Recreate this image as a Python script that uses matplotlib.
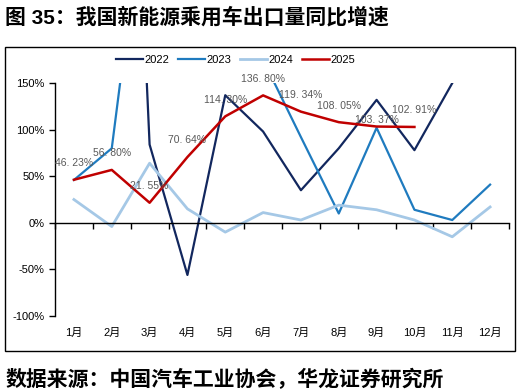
import matplotlib.pyplot as plt
from matplotlib.patches import Rectangle

plt.rcParams['font.family'] = ['Liberation Sans', 'Noto Sans CJK SC']

# =====================
# DADOS
# =====================

meses = ["1月", "2月", "3月", "4月", "5月", "6月", "7月", "8月", "9月", "10月", "11月", "12月"]

# valores acima de 150% ficam cortados no gráfico original (estimados)
v2022 = [800, 980, 84, -56, 137, 98, 35, 80, 132, 78, 150, None]
v2023 = [46, 80, 398, 300, 250, 175, 92, 10, 102, 14, 3, 41]
v2024 = [25, -4, 64, 15, -10, 11, 3, 19, 14, 3, -15, 17]
v2025 = [46.23, 56.80, 21.55, 70.64, 114.30, 136.80, 119.34, 108.05, 103.37, 102.91]

rotulos_2025 = ["46.23%", "56.80%", "21.55%", "70.64%", "114.30%", "136.80%",
                "119.34%", "108.05%", "103.37%", "102.91%"]

# =====================
# FIGURA
# =====================

fig = plt.figure(figsize=(5.21, 3.92), dpi=100)
ax = fig.add_axes([0.1056, 0.194, 0.8714, 0.594])

x = list(range(1, 13))

ax.plot(x[:len(v2022)], [v if v is not None else float('nan') for v in v2022],
        color="#12275e", lw=1.6, label="2022")
ax.plot(x, v2023, color="#1f7bbf", lw=1.6, label="2023")
ax.plot(x, v2024, color="#a5c8e6", lw=2.0, label="2024")
ax.plot(x[:len(v2025)], v2025, color="#c00000", lw=1.8, label="2025")

for i, (val, txt) in enumerate(zip(v2025, rotulos_2025)):
    dy = 5 if i == 8 else 12
    ax.annotate(txt.replace(".", ". "), (x[i], val), xytext=(0, dy),
                textcoords="offset points", ha="center", va="center",
                fontsize=7.5, color="#595959")

ax.set_xlim(0.5, 12.5)
ax.set_ylim(-100, 150)
ax.set_yticks([-100, -50, 0, 50, 100, 150])
ax.set_yticklabels(["-100%", "-50%", "0%", "50%", "100%", "150%"], fontsize=8)
ax.tick_params(axis="y", direction="out", length=4, width=1)

ax.spines["top"].set_visible(False)
ax.spines["right"].set_visible(False)
ax.spines["bottom"].set_position(("data", 0))
ax.spines["left"].set_linewidth(1)
ax.spines["bottom"].set_linewidth(1)

ax.set_xticks([b + 0.5 for b in range(0, 13)])
ax.set_xticklabels([])
ax.tick_params(axis="x", direction="out", length=4, width=1)

for xi, m in zip(x, meses):
    ax.text(xi, -0.074, m, transform=ax.get_xaxis_transform(),
            ha="center", va="center", fontsize=8)

fig.legend(ncol=4, frameon=False, loc="center", bbox_to_anchor=(0.452, 0.847),
           fontsize=8, handlelength=2.4, columnspacing=0.8, handletextpad=0.15)

# moldura
fig.patches.append(Rectangle((0.0096, 0.104), 0.979, 0.776, transform=fig.transFigure,
                             fill=False, edgecolor="black", lw=1))

fig.text(0.01, 0.957, "图 35：我国新能源乘用车出口量同比增速", fontsize=15,
         fontweight="bold", va="center", ha="left")
fig.text(0.01, 0.033, "数据来源：中国汽车工业协会，华龙证券研究所", fontsize=15,
         fontweight="bold", va="center", ha="left")

fig.savefig("out.png", dpi=100)
